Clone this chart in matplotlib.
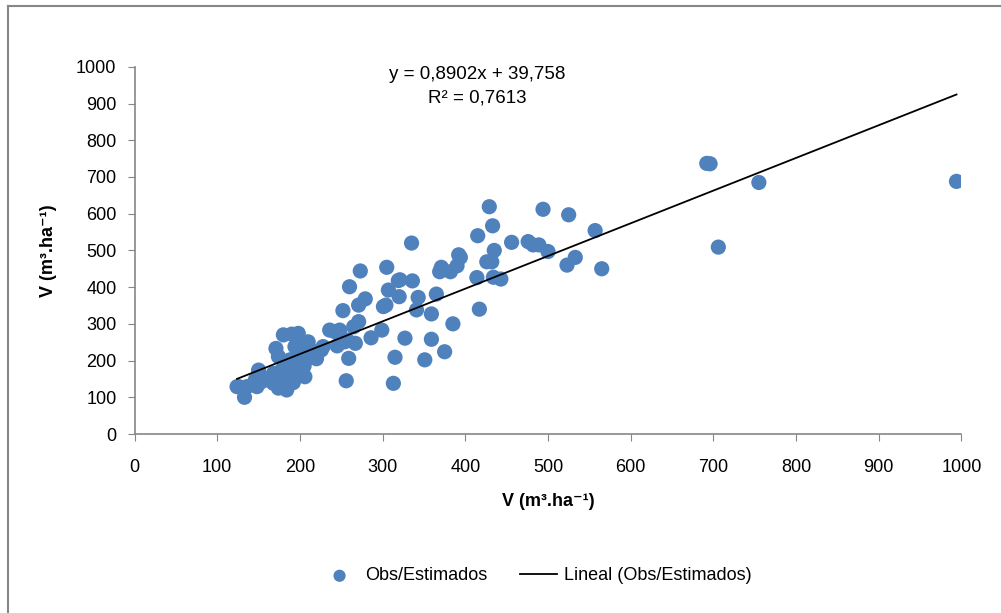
import matplotlib.pyplot as plt
from matplotlib.lines import Line2D

plt.rcParams['font.family'] = ['Liberation Sans', 'DejaVu Sans']

obs_x = [126, 124, 136, 148, 133, 146, 154, 150, 168, 178, 190, 200, 206, 168, 178,
         188, 194, 174, 184, 171, 174, 188, 200, 210, 180, 190, 198, 210, 194, 202,
         218, 226, 228, 236, 242, 248, 254, 257, 267, 259, 256, 252, 260, 273, 265,
         271, 271, 279, 286, 299, 301, 304, 305, 307, 313, 315, 319, 320, 321, 327,
         335, 336, 341, 343, 351, 359, 359, 365, 369, 371, 375, 382, 385, 390, 392,
         394, 414, 415, 417, 426, 429, 432, 433, 434, 435, 443, 456, 476, 482, 489,
         494, 500, 523, 525, 533, 557, 565, 692, 696, 706, 755, 994,
         160, 185, 195, 205, 215, 220, 183, 192, 245, 212]
est_y = [129, 129, 129, 129, 100, 147, 143, 174, 165, 174, 174, 170, 156, 138, 134,
         147, 152, 125, 120, 233, 211, 202, 211, 206, 270, 272, 274, 251, 238, 238,
         224, 229, 238, 283, 279, 283, 251, 256, 247, 206, 145, 336, 401, 444, 292,
         306, 351, 368, 262, 283, 347, 351, 454, 392, 138, 209, 418, 374, 420, 261,
         520, 417, 338, 372, 202, 327, 258, 381, 442, 454, 224, 442, 300, 458, 488,
         481, 426, 540, 340, 469, 619, 469, 567, 427, 500, 422, 522, 524, 515, 515,
         612, 497, 460, 597, 481, 554, 450, 737, 736, 509, 685, 688,
         150, 185, 190, 185, 215, 205, 155, 140, 240, 225]

# linear trend reported on the chart
slope = 0.8902
intercept = 39.758

blue = '#4F81BD'
gray = '#868686'

fig = plt.figure(figsize=(10.01, 6.13), dpi=100)
ax = fig.add_axes([0.1344, 0.292, 0.8261, 0.599])

ax.scatter(obs_x, est_y, s=120, color=blue, edgecolors='none', zorder=2,
           label='Obs/Estimados')
x_line = [min(obs_x), max(obs_x)]
y_line = [slope * v + intercept for v in x_line]
ax.plot(x_line, y_line, color='black', lw=1.3, zorder=3, label='Lineal (Obs/Estimados)')

ax.set_xlim(0, 1000)
ax.set_ylim(0, 1000)
ax.set_xticks(range(0, 1001, 100))
ax.set_yticks(range(0, 1001, 100))
ax.tick_params(labelsize=13, direction='out', length=5, color=gray)
ax.tick_params(axis='x', pad=13)
ax.tick_params(axis='y', pad=8)
for s in ['top', 'right']:
    ax.spines[s].set_visible(False)
for s in ['left', 'bottom']:
    ax.spines[s].set_color(gray)
    ax.spines[s].set_linewidth(1.2)

ax.set_xlabel('V (m³.ha⁻¹)', fontsize=13, fontweight='bold', labelpad=12)
ax.set_ylabel('V (m³.ha⁻¹)', fontsize=13, fontweight='bold', labelpad=14)

ax.text(414, 978, 'y = 0,8902x + 39,758', ha='center', va='center', fontsize=13.5)
ax.text(414, 915, 'R² = 0,7613', ha='center', va='center', fontsize=13.5)

fig.legend(loc='center', bbox_to_anchor=(536 / 1001, 1 - 576 / 613), ncol=2,
           frameon=False, fontsize=13, handlelength=2.1, columnspacing=1.8,
           handletextpad=0.35, markerscale=0.8)

# chart area border (top and left edges visible)
fig.add_artist(Line2D([7.5 / 1001, 7.5 / 1001], [1 - 6 / 613, 0], transform=fig.transFigure,
                      color=gray, lw=1.5))
fig.add_artist(Line2D([7.5 / 1001, 1], [1 - 6 / 613, 1 - 6 / 613], transform=fig.transFigure,
                      color=gray, lw=1.5))

fig.savefig('out.png', dpi=100)
